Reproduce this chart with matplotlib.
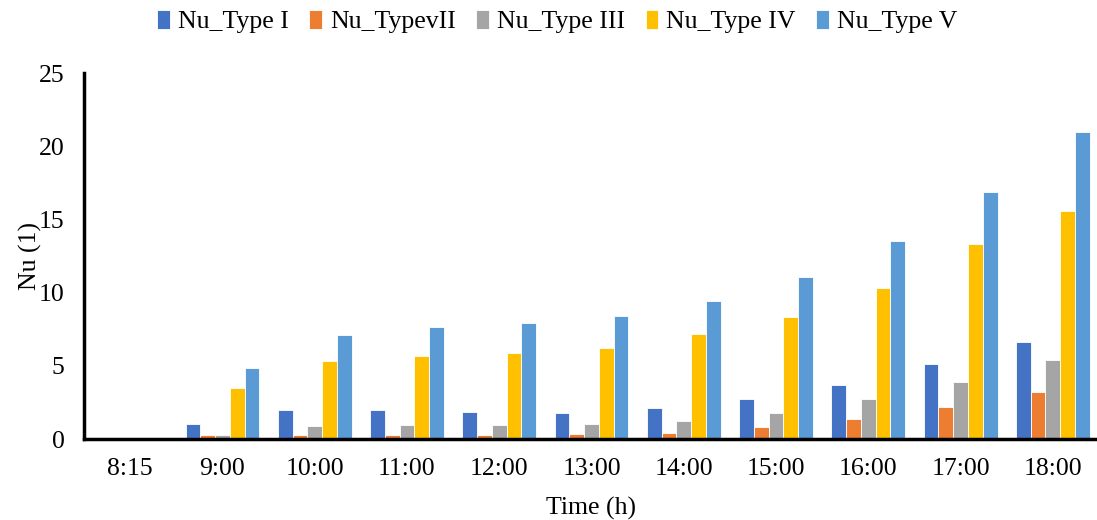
import numpy as np
import matplotlib
matplotlib.use('Agg')
import matplotlib.pyplot as plt

plt.rcParams['font.family'] = ['Liberation Serif', 'DejaVu Serif']

times = ['8:15', '9:00', '10:00', '11:00', '12:00', '13:00', '14:00', '15:00', '16:00', '17:00', '18:00']
nu_type_1 = [0, 1.0, 2.0, 2.0, 1.85, 1.8, 2.1, 2.7, 3.7, 5.1, 6.6]
nu_type_2 = [0, 0.25, 0.3, 0.3, 0.3, 0.35, 0.4, 0.8, 1.4, 2.2, 3.2]
nu_type_3 = [0, 0.3, 0.9, 0.95, 0.95, 1.0, 1.25, 1.8, 2.75, 3.9, 5.4]
nu_type_4 = [0, 3.5, 5.3, 5.7, 5.9, 6.2, 7.2, 8.3, 10.3, 13.3, 15.6]
nu_type_5 = [0, 4.85, 7.1, 7.65, 7.95, 8.4, 9.4, 11.05, 13.55, 16.9, 21.0]

labels = ['Nu_Type I', 'Nu_TypevII', 'Nu_Type III', 'Nu_Type IV', 'Nu_Type V']
colors = ['#4472C4', '#ED7D31', '#A5A5A5', '#FFC000', '#5B9BD5']
series = [nu_type_1, nu_type_2, nu_type_3, nu_type_4, nu_type_5]

fig = plt.figure(figsize=(10.97, 5.2), dpi=100)
ax = fig.add_axes([84 / 1097, 1 - 439 / 520, 1015 / 1097, 366 / 520])

x = np.arange(len(times))
width = 0.16
for i, (vals, lab, col) in enumerate(zip(series, labels, colors)):
    ax.bar(x + (i - 2) * width, vals, width, color=col, label=lab,
           edgecolor='white', linewidth=0.6)

ax.set_xlim(-0.5, len(times) - 0.5)
ax.set_ylim(0, 25)
ax.set_yticks([0, 5, 10, 15, 20, 25])
ax.set_xticks(x)
ax.set_xticklabels(times)
ax.tick_params(axis='both', length=0, labelsize=18.5)
ax.tick_params(axis='y', pad=14)
ax.tick_params(axis='x', pad=14)

for side in ['top', 'right']:
    ax.spines[side].set_visible(False)
for side in ['left', 'bottom']:
    ax.spines[side].set_linewidth(2.5)
    ax.spines[side].set_color('black')

ax.set_xlabel('Time (h)', fontsize=18.5, labelpad=12)
ax.set_ylabel('Nu (1)', fontsize=18.5, labelpad=-2)

fig.legend(loc='upper center', bbox_to_anchor=(0.508, 1.025), ncol=5, frameon=False,
           fontsize=18.5, handlelength=0.5, handleheight=0.75, handletextpad=0.3,
           columnspacing=0.8)

fig.savefig('out.png', dpi=100)
